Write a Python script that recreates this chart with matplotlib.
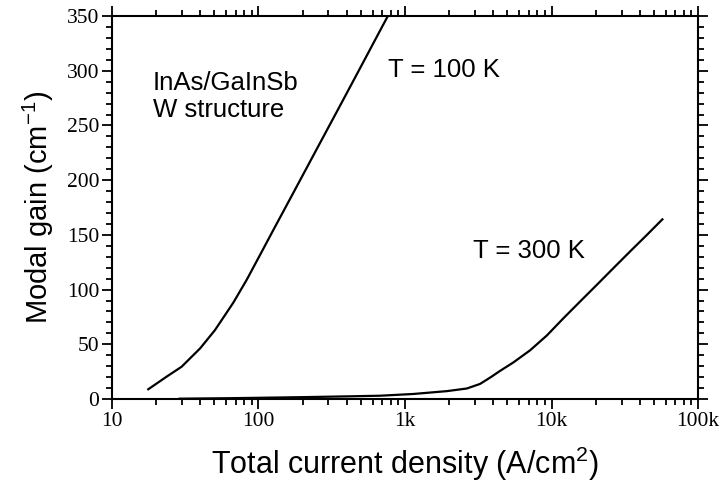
import matplotlib
matplotlib.use("Agg")
import matplotlib.pyplot as plt
from matplotlib.ticker import MultipleLocator, LogLocator, FixedLocator, FixedFormatter, NullFormatter

plt.rcParams["mathtext.fontset"] = "custom"
plt.rcParams["mathtext.rm"] = "Liberation Sans"
plt.rcParams["mathtext.it"] = "Liberation Sans"

# datos
j_100 = [17.7, 23.6, 29.9, 40, 50.5, 67.3, 83, 100, 130, 170, 250, 360, 500, 770]
g_100 = [8.9, 20.4, 29.5, 46.3, 63, 88, 108.8, 129, 157.6, 186.6, 228.5, 268, 303.8, 351]

j_300 = [29, 60, 100, 200, 400, 675, 1140, 1930, 2640, 3250, 3800, 4450,
         5480, 7130, 9270, 12000, 15700, 20300, 26400, 34400, 44700, 57000]
g_300 = [0.3, 0.7, 1.1, 1.7, 2.4, 3.0, 4.6, 7.2, 9.6, 13.8, 19.5, 25.7,
         33.4, 44.5, 58, 73.6, 89.3, 104.2, 119.6, 135, 150, 164.2]

xticks = [10, 100, 1000, 10000, 100000]
xtick_labels = ["10", "100", "1k", "10k", "100k"]

sans = ["Liberation Sans", "DejaVu Sans"]
serif = ["Liberation Serif", "DejaVu Serif"]

fig = plt.figure(figsize=(7.22, 4.86), dpi=100)
ax = fig.add_axes([0.155, 0.179, 0.812, 0.788])

ax.plot(j_100, g_100, color="black", lw=1.6)
ax.plot(j_300, g_300, color="black", lw=1.6)

ax.set_xscale("log")
ax.set_xlim(10, 100000)
ax.set_ylim(0, 350)

ax.xaxis.set_major_locator(FixedLocator(xticks))
ax.xaxis.set_major_formatter(FixedFormatter(xtick_labels))
ax.xaxis.set_minor_locator(LogLocator(base=10, subs=range(2, 10)))
ax.xaxis.set_minor_formatter(NullFormatter())
ax.yaxis.set_major_locator(MultipleLocator(50))
ax.yaxis.set_minor_locator(MultipleLocator(10))

ax.tick_params(which="both", direction="out", top=True, right=True, width=1.3, pad=2)
ax.tick_params(which="major", length=7)
ax.tick_params(which="minor", length=4)
for lab in ax.get_xticklabels() + ax.get_yticklabels():
    lab.set_family(serif)
    lab.set_fontsize(15.5)
for s in ax.spines.values():
    s.set_linewidth(1.5)

ax.set_xlabel("Total current density (A/cm$^2$)", family=sans, fontsize=22, labelpad=10)
ax.set_ylabel("Modal gain (cm$^{-1}$)", family=sans, fontsize=21, labelpad=8)

ax.text(19, 289, "InAs/GaInSb", family=sans, fontsize=18.5, va="center")
ax.text(19, 264, "W structure", family=sans, fontsize=18.5, va="center")
ax.text(1845, 301, "T = 100 K", family=sans, fontsize=18.5, va="center", ha="center")
ax.text(7000, 135, "T = 300 K", family=sans, fontsize=18.5, va="center", ha="center")

fig.savefig("out.png", dpi=100)
